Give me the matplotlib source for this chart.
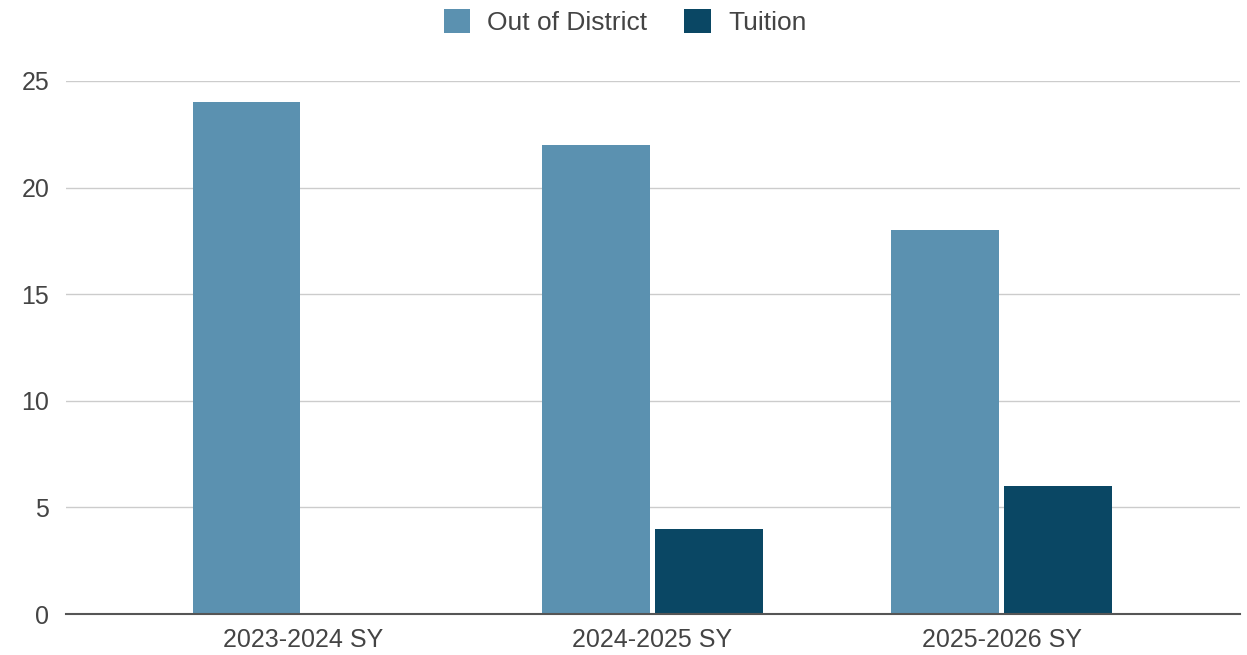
import matplotlib
matplotlib.use("Agg")
import matplotlib.pyplot as plt
import numpy as np

categories = ["2023-2024 SY", "2024-2025 SY", "2025-2026 SY"]
series_names = ["Out of District", "Tuition"]
out_of_district = [24, 22, 18]
tuition = [0, 4, 6]
yticks = [0, 5, 10, 15, 20, 25]

colors = ["#5b91b0", "#0a4764"]

plt.rcParams['font.family'] = ['Liberation Sans', 'DejaVu Sans']

fig = plt.figure(figsize=(12.47, 6.55), dpi=100)
ax = fig.add_axes([66/1247, 1-614/655, (1240-66)/1247, (614-81)/655])

x = np.arange(len(categories))
w = 0.309
off = 0.1614
ax.bar(x - off, out_of_district, width=w, color=colors[0], label=series_names[0], zorder=3)
ax.bar(x + off, tuition, width=w, color=colors[1], label=series_names[1], zorder=3)

ax.set_xlim(-0.678, 2.682)
ax.set_ylim(0, 25)
ax.set_yticks(yticks)
ax.set_yticklabels([str(v) for v in yticks])
ax.set_xticks(x)
ax.set_xticklabels(categories)
ax.tick_params(axis='both', length=0, labelsize=18, labelcolor="#444444")
ax.tick_params(axis='y', pad=12)
ax.tick_params(axis='x', pad=10)
ax.grid(axis='y', color="#cccccc", linewidth=1, zorder=0)
for s in ["top", "right", "left"]:
    ax.spines[s].set_visible(False)
ax.spines["bottom"].set_color("#555555")
ax.spines["bottom"].set_linewidth(1.5)
ax.spines["bottom"].set_zorder(4)

leg = fig.legend(loc="center", bbox_to_anchor=(625/1247, 1-22/655), ncol=2, frameon=False,
                 fontsize=19, handlelength=1.0, handleheight=1.0, handletextpad=0.65,
                 columnspacing=1.4, labelcolor="#444444")

fig.savefig("out.png", dpi=100, facecolor="white")
